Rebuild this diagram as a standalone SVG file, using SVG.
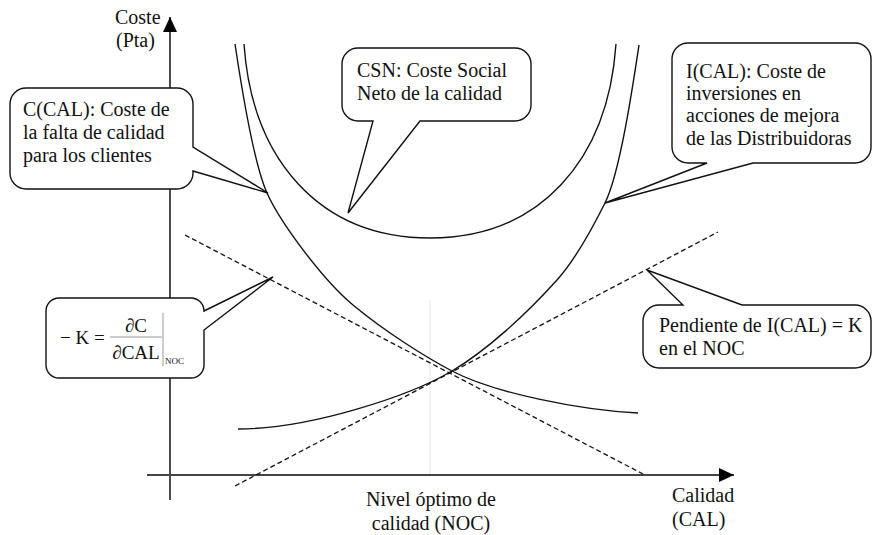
<svg xmlns="http://www.w3.org/2000/svg" width="873" height="535" viewBox="0 0 873 535">
<defs>
<marker id="arr" markerUnits="userSpaceOnUse" markerWidth="16" markerHeight="14" refX="15" refY="7" orient="auto">
<path d="M0,0 L15,7 L0,14 Z" fill="#000"/>
</marker>
<style>
text{font-family:'Liberation Serif','DejaVu Serif',serif;fill:#111}
.t{font-size:20px}
.f{font-size:19px}
.s{font-size:9px}
.curve{fill:none;stroke:#111;stroke-width:1.4}
.dash{fill:none;stroke:#111;stroke-width:1.3;stroke-dasharray:5 3}
.box{fill:#fff;stroke:#111;stroke-width:1.4;stroke-linejoin:miter}
</style>
</defs>
<rect width="873" height="535" fill="#fff"/>
<g id="axes">
<line x1="430" y1="300" x2="430" y2="475" stroke="#e6e6e6" stroke-width="1"/>
<line x1="170" y1="500" x2="170" y2="17" stroke="#111" stroke-width="1.5" marker-end="url(#arr)"/>
<line x1="147" y1="475" x2="734" y2="475" stroke="#444" stroke-width="2" marker-end="url(#arr)"/>
<text class="t" x="115" y="24" font-family="Liberation Serif, serif">Coste</text>
<text class="t" x="116" y="47" font-family="Liberation Serif, serif">(Pta)</text>
<text class="t" x="672" y="502">Calidad</text>
<text class="t" x="672" y="526">(CAL)</text>
<text class="t" x="431" y="506" text-anchor="middle">Nivel óptimo de</text>
<text class="t" x="431" y="530" text-anchor="middle">calidad (NOC)</text>
</g>
<g id="connectors">
<path id="curve-CSN" class="curve" d="M244,44 C252,160 320,238 430,238 C540,238 608,160 616,44"/>
<path id="curve-C" class="curve" d="M235,44 C241,84 253.5,163 267,193 C280.5,223 323,280 353,305 C383,330 423.5,356 452,371 C493.8,393 580,410 638,413"/>
<path id="curve-I" class="curve" d="M639,45 C633,85 620,173 605,203 C590,233 573.2,262 557,280 C525.5,315 486,351 452,371 C409.5,396 310,429 238,429"/>
<line id="tangent-C" class="dash" x1="185" y1="235" x2="643" y2="474"/>
<line id="tangent-I" class="dash" x1="235" y1="486" x2="718" y2="232"/>
</g>
<g id="callout-C">
<path class="box" d="M26,88 H177 A16,16 0 0 1 193,104 V147 L268,193 L193,171 V173 A16,16 0 0 1 177,189 H26 A16,16 0 0 1 10,173 V104 A16,16 0 0 1 26,88 Z"/>
<text class="t" x="23" y="116">C(CAL): Coste de</text>
<text class="t" x="23" y="139">la falta de calidad</text>
<text class="t" x="23" y="162">para los clientes</text>
</g>
<g id="callout-CSN">
<path class="box" d="M358,48 H515 A16,16 0 0 1 531,64 V105 A16,16 0 0 1 515,121 H420 L348,213 L373,121 H358 A16,16 0 0 1 342,105 V64 A16,16 0 0 1 358,48 Z"/>
<text class="t" x="357" y="77">CSN: Coste Social</text>
<text class="t" x="357" y="100">Neto de la calidad</text>
</g>
<g id="callout-I">
<path class="box" d="M688,43 H855 A16,16 0 0 1 871,59 V147 A16,16 0 0 1 855,163 H753 L605,203 L707,163 H688 A16,16 0 0 1 672,147 V59 A16,16 0 0 1 688,43 Z"/>
<text class="t" x="686" y="78">I(CAL): Coste de</text>
<text class="t" x="686" y="100">inversiones en</text>
<text class="t" x="686" y="122">acciones de mejora</text>
<text class="t" x="686" y="145">de las Distribuidoras</text>
</g>
<g id="callout-K">
<path class="box" d="M59,298 H191 A13,13 0 0 1 204,311 L273,277 L204,330 V365 A13,13 0 0 1 191,378 H59 A13,13 0 0 1 46,365 V311 A13,13 0 0 1 59,298 Z"/>
<text class="f" x="60" y="344">− K =</text>
<text class="f" x="136" y="332" text-anchor="middle">∂C</text>
<line x1="110" y1="337" x2="162" y2="337" stroke="#999" stroke-width="1"/>
<text class="f" x="136" y="359" text-anchor="middle">∂CAL</text>
<line x1="163" y1="313" x2="163" y2="366" stroke="#999" stroke-width="1"/>
<text class="s" x="165" y="364">NOC</text>
</g>
<g id="callout-K-slope">
<path class="box" d="M659,305 H683 L647,270 L742,305 H855 A16,16 0 0 1 871,321 V352 A16,16 0 0 1 855,368 H659 A16,16 0 0 1 643,352 V321 A16,16 0 0 1 659,305 Z"/>
<text class="t" x="659" y="332">Pendiente de I(CAL) = K</text>
<text class="t" x="659" y="355">en el NOC</text>
</g>
</svg>
